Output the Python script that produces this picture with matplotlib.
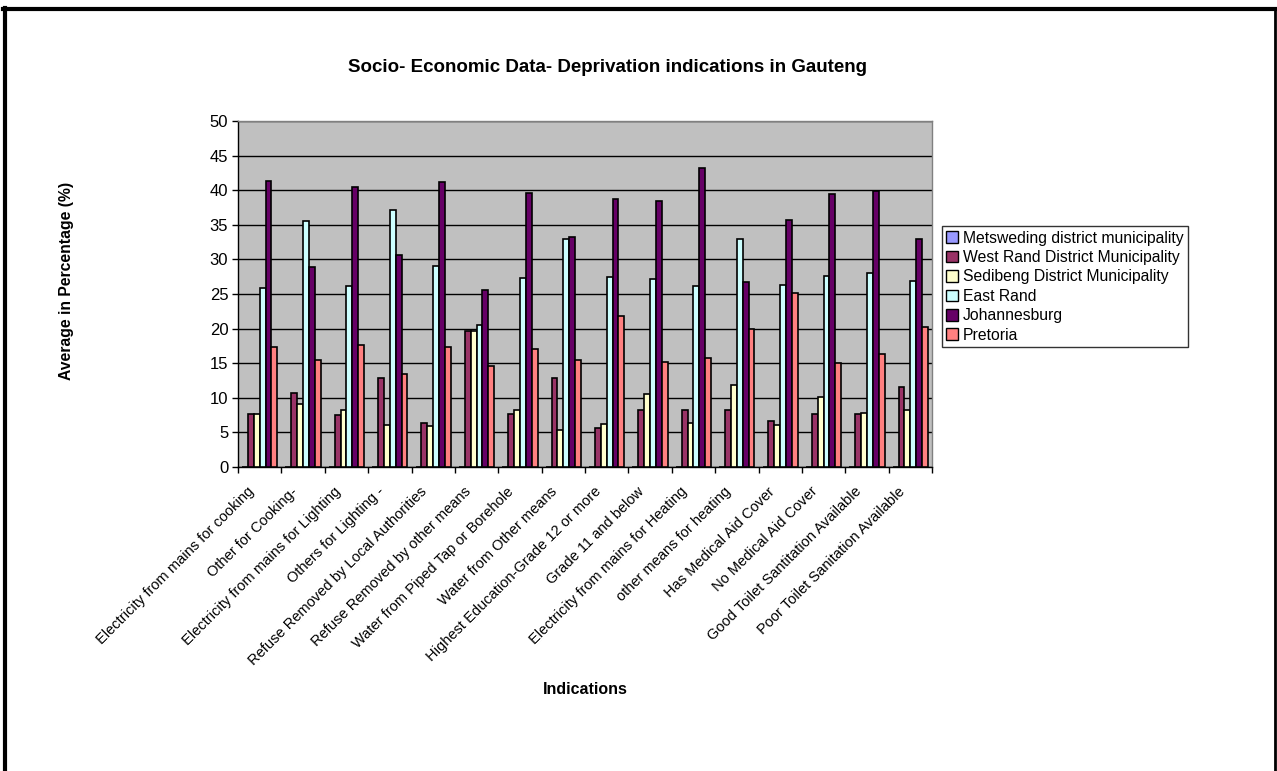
import matplotlib
matplotlib.use("Agg")
import matplotlib.pyplot as plt
import numpy as np
from matplotlib.lines import Line2D
from matplotlib.patches import Patch
from matplotlib.transforms import ScaledTranslation

plt.rcParams['font.family'] = ['Liberation Sans', 'DejaVu Sans']

categories = [
    "Electricity from mains for cooking",
    "Other for Cooking-",
    "Electricity from mains for Lighting",
    "Others for Lighting -",
    "Refuse Removed by Local Authorities",
    "Refuse Removed by other means",
    "Water from Piped Tap or Borehole",
    "Water from Other means",
    "Highest Education-Grade 12 or more",
    "Grade 11 and below",
    "Electricity from mains for Heating",
    "other means for heating",
    "Has Medical Aid Cover",
    "No Medical Aid Cover",
    "Good Toilet Santitation Available",
    "Poor Toilet Sanitation Available",
]

series_names = [
    "Metsweding district municipality",
    "West Rand District Municipality",
    "Sedibeng District Municipality",
    "East Rand",
    "Johannesburg",
    "Pretoria",
]

metsweding = [0] * 16
west_rand = [7.7, 10.7, 7.5, 12.8, 6.4, 19.6, 7.7, 12.8, 5.7, 8.2, 8.2, 8.2, 6.6, 7.7, 7.7, 11.6]
sedibeng = [7.6, 9.1, 8.2, 6.0, 5.9, 19.6, 8.2, 5.3, 6.2, 10.6, 6.4, 11.8, 6.0, 10.1, 7.8, 8.3]
east_rand = [25.8, 35.6, 26.2, 37.1, 29.0, 20.5, 27.3, 33.0, 27.5, 27.2, 26.1, 32.9, 26.3, 27.6, 28.1, 26.9]
johannesburg = [41.4, 28.9, 40.5, 30.6, 41.2, 25.6, 39.6, 33.3, 38.7, 38.5, 43.2, 26.8, 35.7, 39.4, 39.9, 33.0]
pretoria = [17.3, 15.5, 17.6, 13.4, 17.3, 14.6, 17.1, 15.5, 21.8, 15.2, 15.8, 20.0, 25.2, 15.1, 16.4, 20.2]

colors = ["#9999FF", "#993366", "#FFFFCC", "#CCFFFF", "#660066", "#FF8080"]
all_series = [metsweding, west_rand, sedibeng, east_rand, johannesburg, pretoria]

W, H = 1277, 771
fig = plt.figure(figsize=(W / 100, H / 100), dpi=100)
ax = fig.add_axes([238 / W, 1 - 467 / H, (932 - 238) / W, (467 - 121) / H])
ax.set_facecolor("#C0C0C0")

n = len(categories)
x = np.arange(n)
bw = 0.135
for i, (vals, c) in enumerate(zip(all_series, colors)):
    offs = (i - 2.5) * bw
    ax.bar(x + offs, vals, width=bw, color=c, edgecolor="black", linewidth=1.2, zorder=3)

ax.set_xlim(-0.5, n - 0.5)
ax.set_ylim(0, 50)
ax.set_yticks(np.arange(0, 51, 5))
ax.yaxis.grid(True, color="black", linewidth=1.0, zorder=1)
ax.set_axisbelow(True)

ax.set_xticks(np.arange(-0.5, n, 1.0))
ax.set_xticklabels([])
ax.set_xticks(x, minor=True)
ax.set_xticklabels(categories, minor=True, rotation=45, ha="right",
                   rotation_mode="anchor", fontsize=10.5)
ax.tick_params(axis="x", which="minor", length=0, pad=9)
ax.tick_params(axis="x", which="major", length=4, direction="out", width=1)
ax.tick_params(axis="y", length=4, direction="out", width=1, labelsize=12, pad=3)

shift = ScaledTranslation(-13 / 100, -5 / 100, fig.dpi_scale_trans)
for lab in ax.get_xticklabels(minor=True):
    lab.set_transform(lab.get_transform() + shift)

for s in ["top", "right"]:
    ax.spines[s].set_color("#808080")
    ax.spines[s].set_linewidth(1.0)
for s in ["left", "bottom"]:
    ax.spines[s].set_color("black")
    ax.spines[s].set_linewidth(1.0)

fig.text(348 / W, 1 - 67 / H, "Socio- Economic Data- Deprivation indications in Gauteng",
         ha="left", va="center", fontsize=13.5, fontweight="bold")
fig.text(67 / W, 1 - 281 / H, "Average in Percentage (%)", rotation=90,
         ha="center", va="center", fontsize=11.3, fontweight="bold")
fig.text(585 / W, 1 - 690 / H, "Indications", ha="center", va="center",
         fontsize=11.5, fontweight="bold")

handles = [Patch(facecolor=c, edgecolor="black", linewidth=1.0) for c in colors]
leg = fig.legend(handles, series_names, loc="upper left",
                 bbox_to_anchor=(941.5 / W, 1 - 226 / H), fontsize=11.3,
                 frameon=True, fancybox=False, edgecolor="black",
                 handlelength=0.75, handleheight=0.75, handletextpad=0.3,
                 borderpad=0.3, labelspacing=0.28, borderaxespad=0)
leg.get_frame().set_linewidth(1.0)

# figure border
fig.add_artist(Line2D([5 / W, 5 / W], [0, 1 - 8 / H], transform=fig.transFigure,
                      color="black", linewidth=3))
fig.add_artist(Line2D([3 / W, 1276 / W], [1 - 8.5 / H, 1 - 8.5 / H], transform=fig.transFigure,
                      color="black", linewidth=3))
fig.add_artist(Line2D([1275 / W, 1275 / W], [0, 1 - 8 / H], transform=fig.transFigure,
                      color="black", linewidth=2))

fig.savefig("out.png", dpi=100, facecolor="white")
